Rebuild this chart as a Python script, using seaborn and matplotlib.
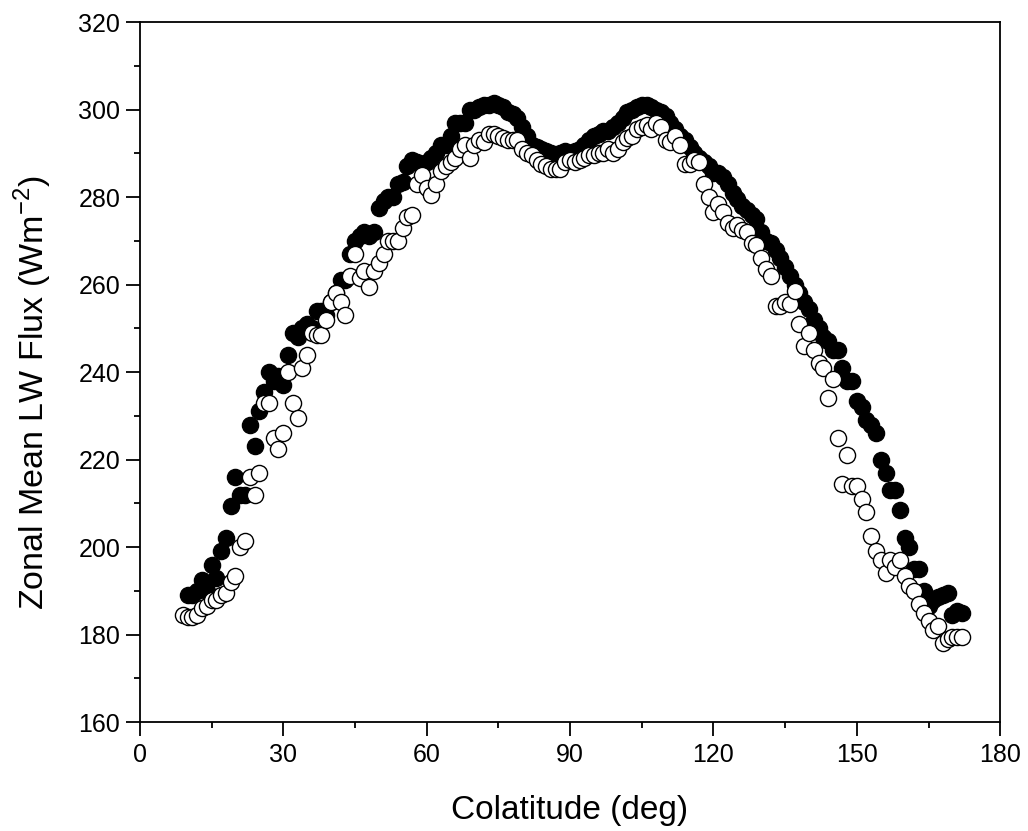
import numpy as np
import pandas as pd
import matplotlib
matplotlib.use("Agg")
import matplotlib.pyplot as plt
import seaborn as sns
from matplotlib.ticker import MultipleLocator

colat_filled = list(range(10, 173))
flux_filled = [189, 189, 190, 192.5, 190, 196, 193, 199, 202, 209.5,
               216, 212, 212, 228, 223, 231, 235.5, 240, 238, 239,
               237, 244, 249, 248, 250, 251, 250, 254, 254, 253,
               256, 258, 261, 261, 267, 270, 271, 272, 271, 272,
               277.5, 279, 280, 280, 283, 283.5, 287, 288.5, 288, 287,
               288, 289, 290, 292, 292, 294, 297, 297, 297, 300,
               300, 300.5, 301, 301, 301.5, 301, 300.5, 299.5, 299, 298,
               296, 294, 292, 291.5, 291, 290.5, 290, 289.5, 290, 290.5,
               290, 290.5, 291, 292, 293, 294, 294.5, 295, 295, 296,
               297, 298, 299.5, 300, 300.5, 301, 301, 300.5, 300, 299.5,
               298.5, 297, 295.5, 294, 293, 291.5, 290, 289, 288, 287,
               285.5, 285.5, 284.5, 283, 281, 279.5, 278, 277, 276, 275,
               272, 270, 269.5, 268, 266, 264, 262, 260, 258, 256,
               254.5, 252, 250, 248, 247, 245, 245, 241, 238, 238,
               233.5, 232, 229, 228, 226, 220, 217, 213, 213, 208.5,
               202, 200, 195, 195, 190, 186.5, 188, 188.5, 189, 189.5,
               184.5, 185.5, 185]

colat_open = list(range(9, 173))
flux_open = [184.5, 184, 184, 184.5, 186, 186.5, 188, 188, 189, 189.5,
             192, 193.5, 200, 201.5, 216, 212, 217, 233, 233, 225,
             222.5, 226, 240, 233, 229.5, 241, 244, 249, 248.5, 248.5,
             252, 256, 258, 256, 253, 262, 267, 261.5, 263, 259.5,
             263, 265, 267, 270, 270, 270, 273, 275.5, 276, 283,
             285, 282, 280.5, 283, 286, 287, 288, 289, 291, 292,
             289, 292, 293, 292.5, 294.5, 294.5, 294, 293.5, 293, 293,
             293, 291, 290, 289.5, 288.5, 287.5, 287, 286.5, 286.5, 286.5,
             288, 288.5, 288, 288.5, 289, 289.5, 289.5, 290, 290, 291,
             290, 291, 292.5, 293.5, 294, 295.5, 296, 296.5, 295.5, 297,
             296, 293, 292.5, 294, 292, 287.5, 287.5, 288.5, 288, 283,
             280, 276.5, 278.5, 276.5, 274, 273, 273.5, 272.5, 272, 269.5,
             269, 266, 263.5, 262, 255, 255, 256, 255.5, 258.5, 251,
             246, 249, 245, 242, 241, 234, 238.5, 225, 214.5, 221,
             214, 214, 211, 208, 202.5, 199, 197, 194, 197, 195.5,
             197, 193.5, 191, 190, 187, 185, 183, 181, 182, 178,
             179, 179.5, 179.5, 179.5]

x_ticks = [0, 30, 60, 90, 120, 150, 180]
y_ticks = [160, 180, 200, 220, 240, 260, 280, 300, 320]

sns.set_style("ticks")
plt.rcParams['font.family'] = ['Liberation Sans', 'DejaVu Sans']
plt.rcParams['text.color'] = 'black'
plt.rcParams['axes.labelcolor'] = 'black'
plt.rcParams['xtick.color'] = 'black'
plt.rcParams['ytick.color'] = 'black'
plt.rcParams['mathtext.fontset'] = 'custom'
plt.rcParams['mathtext.rm'] = 'Liberation Sans'

fig = plt.figure(figsize=(10.28, 8.31), dpi=100)
ax = fig.add_axes([0.136, 0.131, 0.837, 0.8425])

df_f = pd.DataFrame({"x": colat_filled, "y": flux_filled})
df_o = pd.DataFrame({"x": colat_open, "y": flux_open})

sns.scatterplot(data=df_f, x="x", y="y", ax=ax, s=135, color="black",
                edgecolor="black", linewidth=1.0, zorder=3)
sns.scatterplot(data=df_o, x="x", y="y", ax=ax, s=135, color="white",
                edgecolor="black", linewidth=1.0, zorder=4)

ax.set_xlim(0, 180)
ax.set_ylim(160, 320)
ax.set_xticks(x_ticks)
ax.set_yticks(y_ticks)
ax.xaxis.set_minor_locator(MultipleLocator(15))
ax.yaxis.set_minor_locator(MultipleLocator(10))
ax.tick_params(axis="both", which="major", direction="out", length=10, width=1.3,
               labelsize=18, labelcolor="black", top=False, right=False)
ax.tick_params(axis="x", which="major", pad=5)
ax.tick_params(axis="y", which="major", pad=4)
ax.tick_params(axis="both", which="minor", direction="out", length=4.5, width=1.3,
               top=False, right=False)
for sp in ax.spines.values():
    sp.set_linewidth(1.3)
    sp.set_color("black")
    sp.set_visible(True)

ax.set_xlabel("Colatitude (deg)", fontsize=24, labelpad=20)
ax.set_ylabel("Zonal Mean LW Flux (Wm$^{\\mathrm{-2}}$)", fontsize=24.5)
ax.yaxis.set_label_coords(-0.1, 0.47)

fig.savefig("out.png", dpi=100)
